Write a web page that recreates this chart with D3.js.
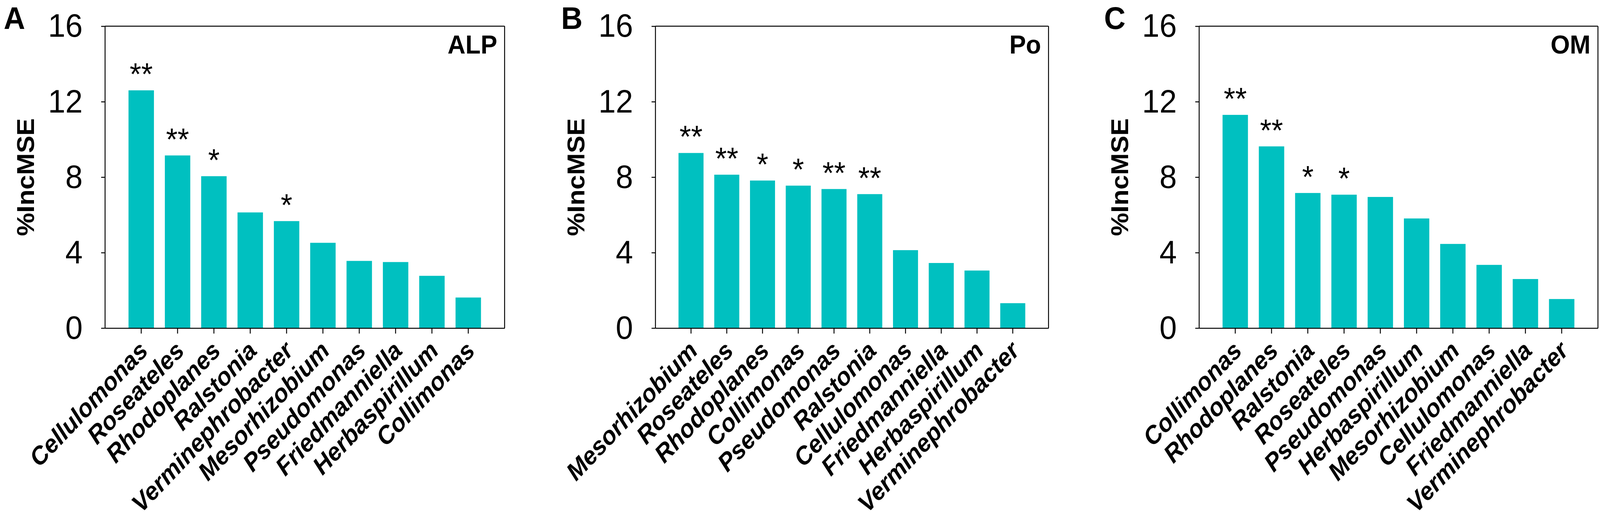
<!DOCTYPE html>
<html>
<head>
<meta charset="utf-8">
<script src="https://cdn.jsdelivr.net/npm/d3@7"></script>
<style>
  html, body { margin: 0; padding: 0; background: #fff; overflow: hidden; }
  #chart svg { display: block; width: 100vw; height: 100vh; }
  text { font-family: Arial, "Liberation Sans", sans-serif; }
</style>
</head>
<body>
<div id="chart"></div>
<script>
// %IncMSE of the top 10 genera for ALP, Po and OM (random forest)
// values

const yTicks = [0, 4, 8, 12, 16];

const catsA = ["Cellulomonas", "Roseateles", "Rhodoplanes", "Ralstonia", "Verminephrobacter",
  "Mesorhizobium", "Pseudomonas", "Friedmanniella", "Herbaspirillum", "Collimonas"];
const valsA = [12.6, 9.15, 8.05, 6.13, 5.67, 4.52, 3.56, 3.50, 2.77, 1.62];
const sigA = ["**", "**", "*", "", "*", "", "", "", "", ""];

const catsB = ["Mesorhizobium", "Roseateles", "Rhodoplanes", "Collimonas", "Pseudomonas",
  "Ralstonia", "Cellulomonas", "Friedmanniella", "Herbaspirillum", "Verminephrobacter"];
const valsB = [9.28, 8.13, 7.82, 7.55, 7.37, 7.10, 4.13, 3.45, 3.05, 1.32];
const sigB = ["**", "**", "*", "*", "**", "**", "", "", "", ""];

const catsC = ["Collimonas", "Rhodoplanes", "Ralstonia", "Roseateles", "Pseudomonas",
  "Herbaspirillum", "Mesorhizobium", "Cellulomonas", "Friedmanniella", "Verminephrobacter"];
const valsC = [11.30, 9.63, 7.16, 7.07, 6.95, 5.81, 4.46, 3.35, 2.60, 1.54];
const sigC = ["**", "**", "*", "*", "", "", "", "", "", ""];

width = 4317;
height = 1328;
let top0 = 67, bottom0 = 839.5;
let barColor = "#00c0c0";

// viewBox stretched to the window so the figure fills it edge to edge
let svg = d3.select("#chart")
  .append("svg")
  .attr("viewBox", "0 0 " + width + " " + height)
  .attr("preserveAspectRatio", "none")

svg.append("rect").attr("width", width).attr("height", height).attr("fill", "#fff")

let y = d3.scaleLinear().domain([0, 16]).range([bottom0, top0])

function drawPanel(cats, vals, sig, letter, name, left, right, letterX) {
  let x = d3.scaleBand()
    .domain(cats)
    .range([left, right])
    .paddingInner(0.3)
    .paddingOuter(0.65)

  let g = svg.append("g")

  // bars
  g.selectAll("rect.bar")
    .data(cats)
    .enter().append("rect")
    .attr("class", "bar")
    .attr("x", (d) => x(d))
    .attr("width", x.bandwidth())
    .attr("y", (d, i) => y(vals[i]))
    .attr("height", (d, i) => y(0) - y(vals[i]))
    .attr("fill", barColor)

  // significance stars
  g.selectAll("text.sig")
    .data(cats)
    .enter().append("text")
    .attr("class", "sig")
    .attr("x", (d) => x(d) + x.bandwidth() / 2)
    .attr("y", (d, i) => y(vals[i]) - 14)
    .attr("text-anchor", "middle")
    .attr("font-size", 80)
    .text((d, i) => sig[i])

  // frame: top and right
  g.append("line")
    .attr("x1", left).attr("x2", right)
    .attr("y1", y(16)).attr("y2", y(16))
    .attr("stroke", "#000").attr("stroke-width", 2.5)
  g.append("line")
    .attr("x1", right).attr("x2", right)
    .attr("y1", y(16)).attr("y2", y(0))
    .attr("stroke", "#000").attr("stroke-width", 2.5)

  let yAxis = d3.axisLeft(y).tickValues(yTicks).tickSize(10).tickSizeOuter(0).tickPadding(50)
  let ya = g.append("g")
    .attr("transform", "translate(" + left + ",0)")
    .call(yAxis)
  ya.selectAll("path, line").attr("stroke", "#000").attr("stroke-width", 2.5)
  ya.selectAll("text").attr("font-size", 84).attr("fill", "#000")
    .style("font-family", "Arial, 'Liberation Sans', sans-serif")

  let xAxis = d3.axisBottom(x).tickSize(14).tickSizeOuter(0).tickFormat("")
  let xa = g.append("g")
    .attr("transform", "translate(0," + y(0) + ")")
    .call(xAxis)
  xa.selectAll("path, line").attr("stroke", "#000").attr("stroke-width", 2.5)

  // rotated genus names
  g.selectAll("text.cat")
    .data(cats)
    .enter().append("text")
    .attr("class", "cat")
    .attr("transform", (d) => "translate(" + (x(d) + x.bandwidth() / 2 + 8) + "," + (y(0) + 48) + ") rotate(-45)")
    .attr("dy", "0.3em")
    .attr("text-anchor", "end")
    .attr("font-size", 64)
    .attr("font-weight", "bold")
    .attr("font-style", "italic")
    .text((d) => d)

  // y label
  g.append("text")
    .attr("transform", "translate(" + (left - 191) + "," + ((y(0) + y(16)) / 2) + ") rotate(-90)")
    .attr("text-anchor", "middle")
    .attr("font-size", 67)
    .attr("font-weight", "bold")
    .text("%IncMSE")

  // variable name, top right
  g.append("text")
    .attr("x", right - 20)
    .attr("y", 137)
    .attr("text-anchor", "end")
    .attr("font-size", 67)
    .attr("font-weight", "bold")
    .text(name)

  // panel letter
  g.append("text")
    .attr("x", letterX)
    .attr("y", 74)
    .attr("font-size", 80)
    .attr("font-weight", "bold")
    .text(letter)
}

drawPanel(catsA, valsA, sigA, "A", "ALP", 283, 1361.5, 10)
drawPanel(catsB, valsB, sigB, "B", "Po", 1768, 2829, 1514)
drawPanel(catsC, valsC, sigC, "C", "OM", 3235, 4311.5, 2979)
</script>
</body>
</html>
